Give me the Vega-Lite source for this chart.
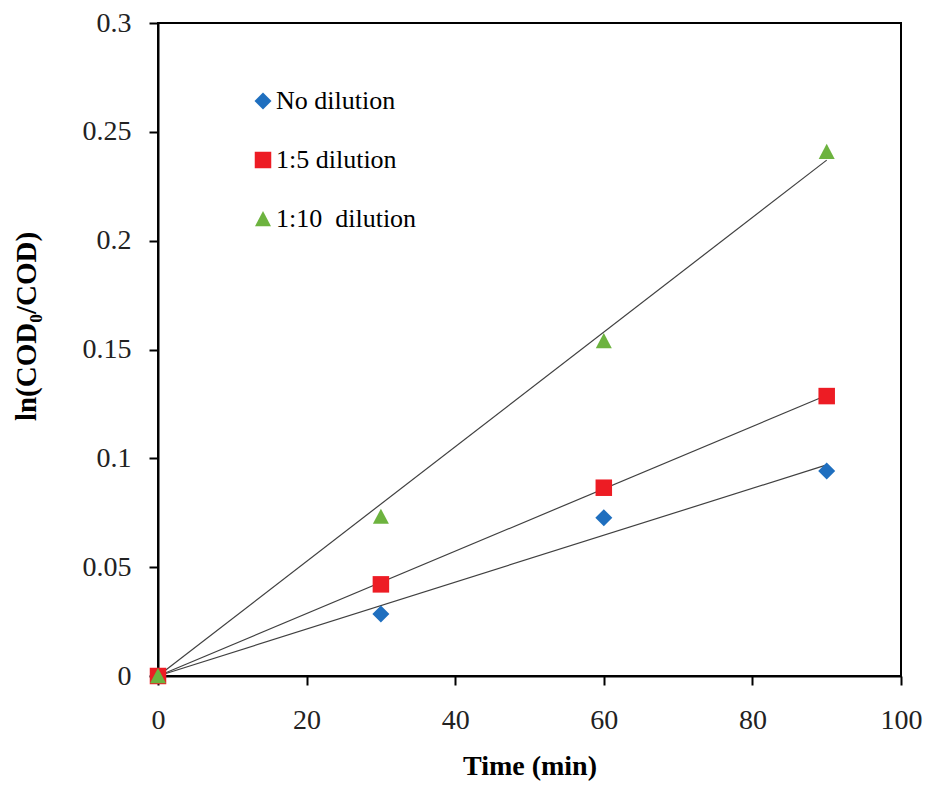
{
  "$schema": "https://vega.github.io/schema/vega-lite/v6.json",
  "autosize": {"type": "none"},
  "padding": {"left": 158, "top": 23, "right": 26, "bottom": 114},
  "width": 743,
  "height": 653,
  "background": "white",
  "config": {
    "font": "Liberation Serif",
    "view": {"stroke": "black", "strokeWidth": 2},
    "axis": {"grid": false, "domainColor": "black", "domainWidth": 2, "tickColor": "black", "tickWidth": 2, "tickSize": 9, "labelFont": "Liberation Serif", "labelFontSize": 28, "labelColor": "#222", "titleFont": "Liberation Serif", "titleFontSize": 28, "titleFontWeight": "bold", "titleColor": "black", "labelFlush": false},
    "legend": {"labelFont": "Liberation Serif", "labelFontSize": 26, "labelColor": "black"}
  },
  "datasets": {
    "points": [
      {"series": "No dilution", "Time": 0, "value": 0},
      {"series": "No dilution", "Time": 30, "value": 0.0285},
      {"series": "No dilution", "Time": 60, "value": 0.0727},
      {"series": "No dilution", "Time": 90, "value": 0.0942},
      {"series": "1:5 dilution", "Time": 0, "value": 0},
      {"series": "1:5 dilution", "Time": 30, "value": 0.0421},
      {"series": "1:5 dilution", "Time": 60, "value": 0.0865},
      {"series": "1:5 dilution", "Time": 90, "value": 0.1286},
      {"series": "1:10  dilution", "Time": 0, "value": 0},
      {"series": "1:10  dilution", "Time": 30, "value": 0.0732},
      {"series": "1:10  dilution", "Time": 60, "value": 0.1539},
      {"series": "1:10  dilution", "Time": 90, "value": 0.2408}
    ],
    "fits": [
      {"series": "No dilution", "Time": 0, "fit": 0},
      {"series": "No dilution", "Time": 90, "fit": 0.097},
      {"series": "1:5 dilution", "Time": 0, "fit": 0},
      {"series": "1:5 dilution", "Time": 90, "fit": 0.129},
      {"series": "1:10  dilution", "Time": 0, "fit": 0},
      {"series": "1:10  dilution", "Time": 90, "fit": 0.237}
    ]
  },
  "layer": [
    {
      "data": {"name": "fits"},
      "mark": {"type": "line", "color": "#404040", "strokeWidth": 1.2},
      "encoding": {
        "x": {"field": "Time", "type": "quantitative", "scale": {"domain": [0, 100]}},
        "y": {"field": "fit", "type": "quantitative", "scale": {"domain": [0, 0.3]}},
        "detail": {"field": "series"}
      }
    },
    {
      "data": {"name": "points"},
      "mark": {"type": "point", "filled": true, "opacity": 1, "strokeWidth": 1},
      "encoding": {
        "x": {"field": "Time", "type": "quantitative", "scale": {"domain": [0, 100]},
          "axis": {"values": [0, 20, 40, 60, 80, 100], "title": "Time (min)", "labelPadding": 21, "titlePadding": 18}},
        "y": {"field": "value", "type": "quantitative", "scale": {"domain": [0, 0.3]},
          "axis": {"values": [0, 0.05, 0.1, 0.15, 0.2, 0.25, 0.3], "format": "~g", "title": "ln(COD₀/COD)", "titleFontSize": 29, "labelPadding": 18, "titleX": -117, "titleY": 303}},
        "color": {"field": "series", "type": "nominal",
          "scale": {"domain": ["No dilution", "1:5 dilution", "1:10  dilution"], "range": ["#1F6FBF", "#ED1C24", "#6DB33F"]},
          "legend": {"title": null, "orient": "none", "legendX": 92, "legendY": 65, "padding": 0, "labelFontSize": 26, "labelFont": "Liberation Serif", "labelColor": "black", "rowPadding": 33, "labelOffset": 0, "symbolSize": 289, "labelExpr": "replace(datum.label, '  ', '\u00a0 ')"}},
        "shape": {"field": "series", "type": "nominal",
          "scale": {"domain": ["No dilution", "1:5 dilution", "1:10  dilution"], "range": ["diamond", "square", "M0,-1L1,0.9L-1,0.9Z"]}},
        "size": {"field": "series", "type": "nominal", "legend": null,
          "scale": {"domain": ["No dilution", "1:5 dilution", "1:10  dilution"], "range": [289, 256, 361]}}
      }
    }
  ]
}
